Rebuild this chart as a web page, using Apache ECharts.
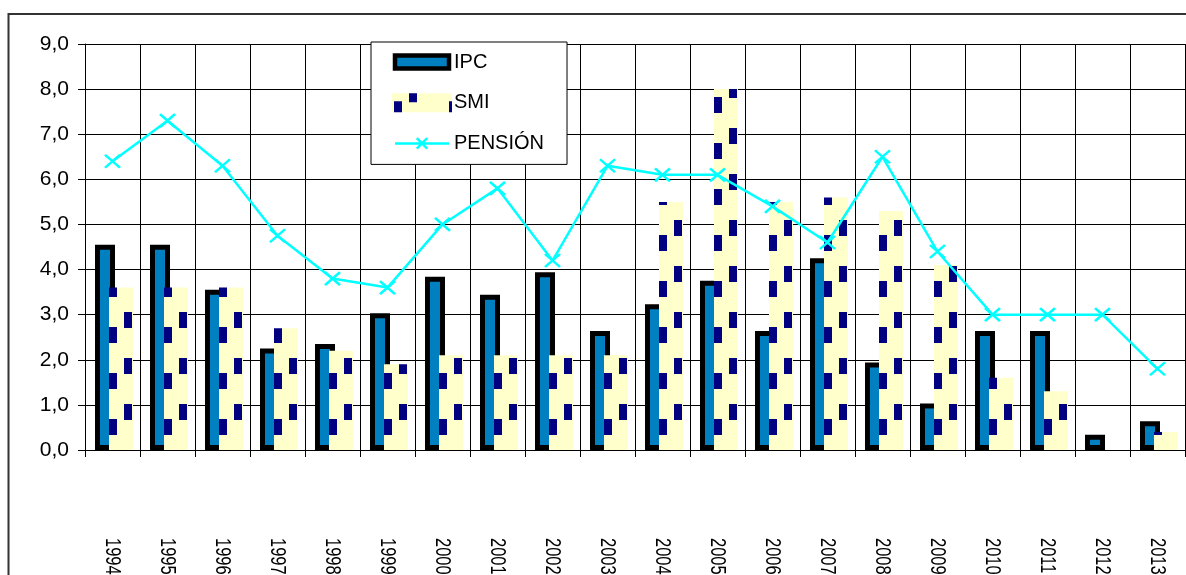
<!DOCTYPE html>
<html>
<head>
<meta charset="utf-8">
<script src="https://cdn.jsdelivr.net/npm/echarts@6/dist/echarts.min.js"></script>
<style>
  html, body { margin: 0; padding: 0; background: #ffffff; }
  #chart { width: 1186px; height: 575px; }
</style>
</head>
<body>
<div id="chart"></div>
<script>
// Annual rates (%) by year
const years = ['1994', '1995', '1996', '1997', '1998', '1999', '2000', '2001', '2002', '2003',
               '2004', '2005', '2006', '2007', '2008', '2009', '2010', '2011', '2012', '2013'];
const ipc = [4.55, 4.55, 3.55, 2.25, 2.35, 3.03, 3.84, 3.44, 3.94, 2.64,
             3.23, 3.75, 2.64, 4.25, 1.94, 1.03, 2.64, 2.64, 0.34, 0.64];
const smi = [3.6, 3.6, 3.6, 2.7, 2.2, 1.9, 2.1, 2.1, 2.1, 2.1,
             5.5, 8.0, 5.5, 5.6, 5.3, 4.1, 1.6, 1.3, 0.0, 0.4];
const pension = [6.4, 7.3, 6.3, 4.75, 3.8, 3.6, 5.0, 5.8, 4.2, 6.3,
                 6.1, 6.1, 5.4, 4.6, 6.5, 4.4, 3.0, 3.0, 3.0, 1.8];
const yMin = 0, yMax = 9, yStep = 1;

const FONT = '"Liberation Sans", Arial, sans-serif';
const BLUE = '#0080C0';
const CREAM = '#FFFFCC';
const NAVY = '#000080';
const CYAN = '#00FFFF';

// Cream fill with staggered navy blocks, one tile per category column
function makeSmiTile() {
  const c = document.createElement('canvas');
  c.width = 55; c.height = 46;
  const g = c.getContext('2d');
  g.fillStyle = CREAM;
  g.fillRect(0, 0, 55, 46);
  g.fillStyle = NAVY;
  g.fillRect(15, 0, 8, 16);
  g.fillRect(0, 15, 8, 16);
  return c;
}
const smiFill = { image: makeSmiTile(), repeat: 'repeat', x: 109, y: 312 };

const crossSymbol = 'path://M0,0L15,13M15,0L0,13';
const GAP = '-30%';

const frame = {
  type: 'rect', id: 'frame', silent: true, z: -10,
  shape: { x: 8.5, y: 14, width: 1300, height: 700 },
  style: { fill: 'none', stroke: '#333333', lineWidth: 2 }
};

const chart = echarts.init(document.getElementById('chart'), null, { renderer: 'canvas' });

chart.setOption({
  animation: false,
  backgroundColor: '#ffffff',
  textStyle: { fontFamily: FONT },
  grid: {
    left: 85, right: 1, top: 44, bottom: 125,
    containLabel: false,
    outerBoundsMode: 'none'
  },
  legend: {
    orient: 'vertical',
    left: 371, top: 42,
    padding: [10, 23, 11, 21],
    itemWidth: 54, itemHeight: 13, itemGap: 20.7,
    backgroundColor: '#ffffff',
    borderColor: '#000000', borderWidth: 1, borderRadius: 0,
    selectedMode: false,
    textStyle: { fontSize: 20, color: '#000000', fontFamily: FONT },
    data: [
      { name: 'IPC', icon: 'rect',
        itemStyle: { color: BLUE, borderColor: '#000000', borderWidth: 4.5 } },
      { name: 'SMI', icon: 'rect',
        itemStyle: { color: smiFill, borderColor: smiFill, borderWidth: 6 } },
      { name: 'PENSIÓN',
        itemStyle: { color: CYAN, borderColor: CYAN, borderWidth: 2.5 },
        lineStyle: { color: CYAN, width: 2.5 } }
    ]
  },
  xAxis: {
    type: 'category',
    data: years,
    boundaryGap: true,
    axisLine: { show: true, lineStyle: { color: '#000000', width: 1 } },
    axisTick: { show: true, length: 7, interval: 0, lineStyle: { color: '#000000' } },
    splitLine: { show: true, interval: 0, lineStyle: { color: '#000000', width: 1 } },
    // year labels are drawn below as condensed vertical text
    axisLabel: { show: false }
  },
  yAxis: {
    type: 'value',
    min: yMin, max: yMax, interval: yStep,
    axisLine: { show: true, lineStyle: { color: '#000000', width: 1 } },
    axisTick: { show: true, length: 7, lineStyle: { color: '#000000' } },
    splitLine: { show: true, lineStyle: { color: '#000000', width: 1 } },
    axisLabel: {
      margin: 16, fontSize: 21, color: '#000000', fontFamily: FONT,
      formatter: v => v.toFixed(1).replace('.', ',')
    }
  },
  series: [
    {
      // empty spacer column, keeps the bar pair at its place in each category
      type: 'bar', barWidth: 4.2857, barGap: GAP, data: [], silent: true
    },
    {
      name: 'IPC', type: 'bar', data: ipc,
      barWidth: 20, barGap: GAP,
      itemStyle: { color: BLUE, borderColor: '#000000', borderWidth: 5 }
    },
    {
      name: 'SMI', type: 'bar', data: smi,
      barWidth: 24, barGap: GAP,
      itemStyle: { color: smiFill, borderWidth: 0 }
    },
    {
      name: 'PENSIÓN', type: 'line', data: pension,
      symbol: crossSymbol, symbolSize: [15, 13], showSymbol: true, showAllSymbol: true,
      color: CYAN,
      lineStyle: { color: CYAN, width: 2.5 },
      itemStyle: { color: CYAN, borderColor: CYAN, borderWidth: 2.5 },
      z: 5
    }
  ]
});

// Vertical year labels, placed at each category centre given by the x axis
const axisY = chart.convertToPixel({ yAxisIndex: 0 }, yMin);
const yearLabels = years.map((yr, i) => ({
  type: 'text', id: 'year' + i, silent: true,
  x: chart.convertToPixel({ xAxisIndex: 0 }, yr),
  y: axisY + 88,
  rotation: -Math.PI / 2,
  scaleX: 0.75,
  style: {
    text: yr, fill: '#000000',
    font: '22px ' + FONT,
    align: 'left', verticalAlign: 'middle'
  }
}));

chart.setOption({ graphic: [frame].concat(yearLabels) });
</script>
</body>
</html>
